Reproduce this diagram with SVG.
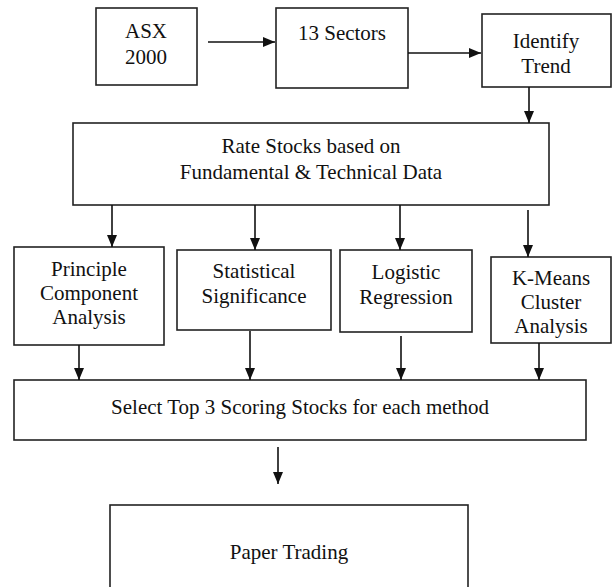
<svg xmlns="http://www.w3.org/2000/svg" width="613" height="587" viewBox="0 0 613 587">
<style>
.box{fill:#fff;stroke:#222;stroke-width:1.6}
.t{font-family:"Liberation Serif","Times New Roman",Times,serif;font-size:21px;fill:#111;text-anchor:middle}
.c{stroke:#111;stroke-width:1.6;fill:none;marker-end:url(#ah)}
</style>
<defs>
<marker id="ah" viewBox="0 0 12 10" refX="12" refY="5" markerWidth="12" markerHeight="10" markerUnits="userSpaceOnUse" orient="auto">
<path d="M0,0 L12,5 L0,10 z" fill="#111"/>
</marker>
</defs>
<rect width="613" height="587" fill="#fff"/>
<g id="asx"><rect class="box" x="96" y="8" width="101" height="77"/><text class="t" x="146" y="38">ASX</text><text class="t" x="146" y="64">2000</text></g>
<g id="sectors"><rect class="box" x="276" y="8" width="132" height="80"/><text class="t" x="342" y="40">13 Sectors</text></g>
<g id="trend"><rect class="box" x="482" y="14" width="129" height="73"/><text class="t" x="546" y="48">Identify</text><text class="t" x="546" y="73">Trend</text></g>
<g id="rate"><rect class="box" x="73" y="123" width="476" height="82"/><text class="t" x="311" y="153">Rate Stocks based on</text><text class="t" x="311" y="179">Fundamental &amp; Technical Data</text></g>
<g id="pca"><rect class="box" x="14" y="247" width="150" height="98"/><text class="t" x="89" y="276">Principle</text><text class="t" x="89" y="300">Component</text><text class="t" x="89" y="324">Analysis</text></g>
<g id="stat"><rect class="box" x="177" y="250" width="154" height="80"/><text class="t" x="254" y="278">Statistical</text><text class="t" x="254" y="303">Significance</text></g>
<g id="logit"><rect class="box" x="340" y="250" width="132" height="82"/><text class="t" x="406" y="279">Logistic</text><text class="t" x="406" y="304">Regression</text></g>
<g id="kmeans"><rect class="box" x="491" y="257" width="120" height="86"/><text class="t" x="551" y="285">K-Means</text><text class="t" x="551" y="309">Cluster</text><text class="t" x="551" y="333">Analysis</text></g>
<g id="select"><rect class="box" x="14" y="380" width="572" height="60"/><text class="t" x="300" y="414">Select Top 3 Scoring Stocks for each method</text></g>
<g id="paper"><rect class="box" x="110" y="505" width="358" height="90"/><text class="t" x="289" y="559">Paper Trading</text></g>
<g id="connectors">
<path class="c" d="M208,42 H275"/>
<path class="c" d="M408,53 H481"/>
<path class="c" d="M529,87 V123"/>
<path class="c" d="M112,205 V247"/>
<path class="c" d="M255,205 V250"/>
<path class="c" d="M400,205 V250"/>
<path class="c" d="M528,210 V257"/>
<path class="c" d="M79,345 V380"/>
<path class="c" d="M250,331 V380"/>
<path class="c" d="M401,336 V380"/>
<path class="c" d="M539,343 V380"/>
<path class="c" d="M278,447 V484"/>
</g>
</svg>
